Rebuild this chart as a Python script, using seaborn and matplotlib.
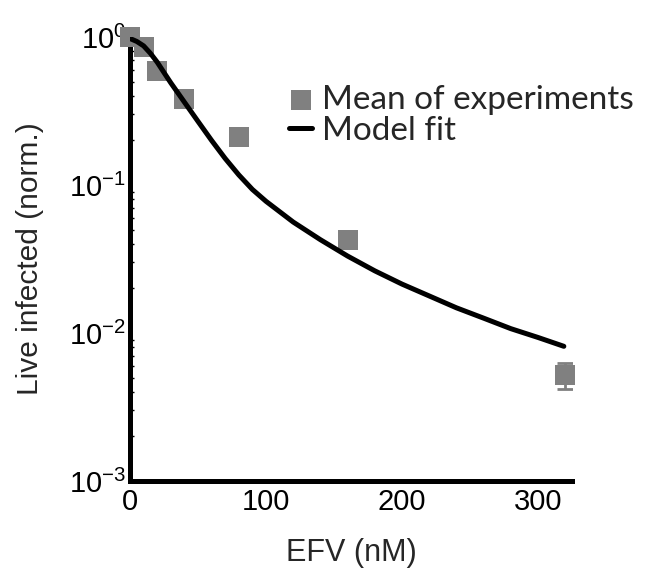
import numpy as np
import pandas as pd
import matplotlib
matplotlib.use("Agg")
import matplotlib.pyplot as plt
import seaborn as sns
from matplotlib.ticker import LogLocator, FixedLocator

# Data
efv = [0, 10, 20, 40, 80, 160, 320]
mean_live = [1.0, 0.855, 0.59, 0.38, 0.21, 0.0426, 0.0052]
err_low = [0.0, 0.0, 0.0, 0.02, 0.0, 0.0013, 0.001]
err_high = [0.0, 0.0, 0.0, 0.02, 0.0, 0.0013, 0.0011]

fit_x = [0, 5, 10, 15, 20, 25, 30, 40, 50, 60, 70, 80, 90, 100, 120, 140, 160,
         180, 200, 220, 240, 260, 280, 300, 319]
fit_y = [0.977, 0.933, 0.871, 0.776, 0.676, 0.575, 0.490, 0.363, 0.269, 0.200,
         0.151, 0.117, 0.0933, 0.0776, 0.0562, 0.0427, 0.0331, 0.0263, 0.0214,
         0.0178, 0.0148, 0.0126, 0.0107, 0.00933, 0.00813]

x_ticks = [0, 100, 200, 300]
y_ticks = [1e-3, 1e-2, 1e-1, 1e0]

sns.set_theme(style="white")
plt.rcParams['font.family'] = ['Liberation Sans', 'DejaVu Sans']
plt.rcParams['mathtext.default'] = 'regular'

fig = plt.figure(figsize=(6.49, 5.74), dpi=100)
ax = fig.add_axes([130/649, 1 - 481/574, 442/649, 444/574])

pts = pd.DataFrame({"EFV": efv, "live": mean_live})
fit = pd.DataFrame({"EFV": fit_x, "live": fit_y})

gray = "#808080"
ax.errorbar(efv, mean_live, yerr=[err_low, err_high], fmt="none",
            ecolor=gray, elinewidth=2, capsize=6, capthick=2, zorder=2)
sns.scatterplot(data=pts, x="EFV", y="live", ax=ax, marker="s", s=190,
                color=gray, edgecolor=gray, linewidth=0, zorder=3,
                label="Mean of experiments", clip_on=False)
sns.lineplot(data=fit, x="EFV", y="live", ax=ax, color="black", linewidth=3.6,
             zorder=4, label="Model fit")

ax.set_yscale("log")
ax.set_ylim(1e-3, 1)
ax.set_xlim(0, 325)
ax.xaxis.set_major_locator(FixedLocator(x_ticks))
ax.yaxis.set_major_locator(FixedLocator(y_ticks))
ax.yaxis.set_minor_locator(LogLocator(base=10, subs=np.arange(2, 10)))
ax.set_xticklabels([str(t) for t in x_ticks])
ax.set_yticklabels([r"$10^{%d}$" % int(np.log10(t)) for t in y_ticks])

for s in ["top", "right"]:
    ax.spines[s].set_visible(False)
for s in ["left", "bottom"]:
    ax.spines[s].set_linewidth(3.6)
    ax.spines[s].set_color("black")

ax.tick_params(axis="both", which="major", direction="in", length=4, width=1,
               colors="black", labelsize=21)
ax.tick_params(axis="x", which="major", pad=5)
ax.tick_params(axis="y", which="major", pad=3)
ax.tick_params(axis="y", which="minor", direction="in", length=3, width=1,
               colors="black", left=True)
ax.tick_params(axis="x", which="minor", bottom=False)

ax.set_xlabel("EFV (nM)", fontsize=22, labelpad=16)
ax.set_ylabel("Live infected (norm.)", fontsize=21.5, labelpad=18)

leg = ax.legend(loc="upper left", bbox_to_anchor=(289/649, 1 - 85/574),
                bbox_transform=fig.transFigure, frameon=False,
                prop={"family": "Lato", "size": 24}, handlelength=0.7,
                handletextpad=0.3, labelspacing=0.02, borderpad=0,
                borderaxespad=0, markerscale=1.0)

fig.savefig("out.png", dpi=100)
